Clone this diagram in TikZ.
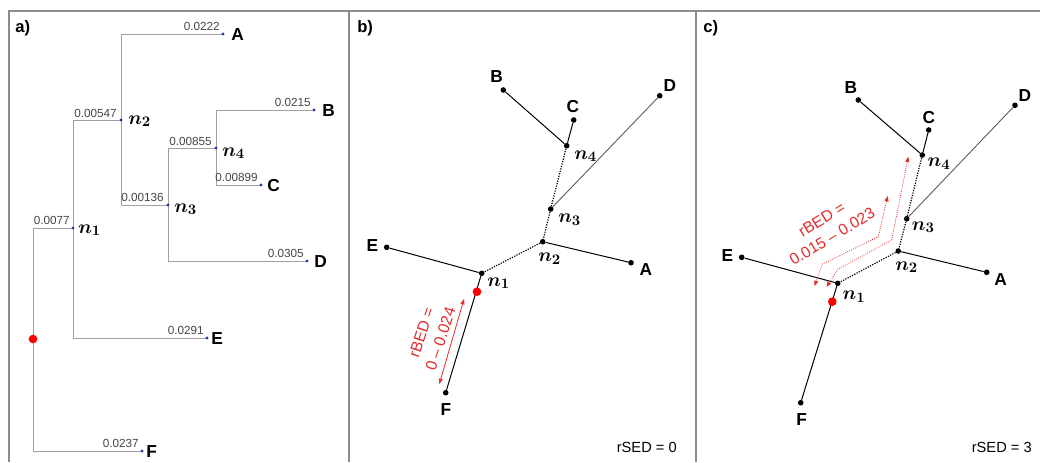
\documentclass[tikz,border=0pt]{standalone}
\usepackage{fontspec}
\setmainfont{Liberation Sans}
\usetikzlibrary{arrows.meta}
\definecolor{framegray}{RGB}{140,140,140}
\definecolor{treegray}{RGB}{160,160,160}
\definecolor{tipblue}{RGB}{30,60,170}
\definecolor{annot}{RGB}{225,45,45}
\definecolor{lengray}{RGB}{70,70,70}
\pgfdeclarelayer{paper}
\pgfdeclarelayer{bg}
\pgfsetlayers{paper,bg,main}
\begin{document}
\begin{tikzpicture}[x=0.75pt,y=-0.75pt,
  bdot/.style={circle,fill=tipblue,inner sep=0,minimum size=2.6pt},
  kdot/.style={circle,fill=black,inner sep=0,minimum size=4.2pt},
  rdot/.style={circle,fill=red,inner sep=0,minimum size=6.5pt},
  tiplab/.style={font=\fontsize{13}{15}\selectfont\bfseries,inner sep=0},
  nlab/.style={font=\fontsize{15}{17}\selectfont\boldmath,inner sep=0,anchor=base west},
  blen/.style={font=\fontsize{8.8}{10}\selectfont,text=lengray,inner sep=0,anchor=base east},
  panlab/.style={font=\fontsize{12.5}{14}\selectfont\bfseries,inner sep=0,anchor=west},
  sedlab/.style={font=\fontsize{11}{13}\selectfont,inner sep=0,anchor=east},
  rtext/.style={font=\fontsize{11.8}{15}\selectfont,text=annot,align=center,inner sep=0},
  tree/.style={draw=treegray,line width=0.75pt},
  edge/.style={draw=black,line width=0.75pt},
  gedge/.style={draw=black!65,line width=0.65pt},
  dedge/.style={draw=black,line width=0.9pt,densely dotted},
  redarrow/.style={draw=annot,line width=0.6pt,{Triangle[length=4pt,width=3pt]}-{Triangle[length=4pt,width=3pt]}},
  framel/.style={draw=framegray,line width=1.5pt}
]
\useasboundingbox (0,0) rectangle (1040,462);
\begin{pgfonlayer}{paper}
\fill[white] (0,0) rectangle (1040,462);
\end{pgfonlayer}
% frame
\draw[framel] (9,462) -- (9,11) -- (1040,11);
\draw[framel] (348.5,11) -- (348.5,462);
\draw[framel] (695.5,11) -- (695.5,462);
\node[panlab] (la) at (15,28) {a)};
\node[panlab] (lb) at (357,28) {b)};
\node[panlab] (lc) at (703,28) {c)};

% ---------------- panel a ----------------
\node[bdot] (aA) at (223,34) {};
\node[bdot] (aB) at (314,110) {};
\node[bdot] (aC) at (261,185) {};
\node[bdot] (aD) at (307,261) {};
\node[bdot] (aE) at (207,338) {};
\node[bdot] (aF) at (142,451) {};
\node[bdot] (an4) at (216,148) {};
\node[bdot] (an3) at (168,205) {};
\node[bdot] (an2) at (121,120) {};
\node[bdot] (an1) at (73,228) {};
\node[rdot] (aroot) at (33,339) {};
\begin{pgfonlayer}{bg}
\draw[tree] (aroot.center) |- (an1.center);
\draw[tree] (aroot.center) |- (aF.center);
\draw[tree] (an1.center) |- (an2.center);
\draw[tree] (an1.center) |- (aE.center);
\draw[tree] (an2.center) |- (aA.center);
\draw[tree] (an2.center) |- (an3.center);
\draw[tree] (an3.center) |- (an4.center);
\draw[tree] (an3.center) |- (aD.center);
\draw[tree] (an4.center) |- (aB.center);
\draw[tree] (an4.center) |- (aC.center);
\end{pgfonlayer}
\node[blen] (lenA) at ([shift={(-3,-4)}]aA.center) {0.0222};
\node[blen] (lenB) at ([shift={(-3,-4)}]aB.center) {0.0215};
\node[blen] (lenC) at ([shift={(-3,-4)}]aC.center) {0.00899};
\node[blen] (lenD) at ([shift={(-3,-4)}]aD.center) {0.0305};
\node[blen] (lenE) at ([shift={(-3,-4)}]aE.center) {0.0291};
\node[blen] (lenF) at ([shift={(-3,-4)}]aF.center) {0.0237};
\node[blen] (len4) at ([shift={(-4,-3)}]an4.center) {0.00855};
\node[blen] (len3) at ([shift={(-4,-4)}]an3.center) {0.00136};
\node[blen] (len2) at ([shift={(-4,-3)}]an2.center) {0.00547};
\node[blen] (len1) at ([shift={(-3,-4)}]an1.center) {0.0077};
\node[tiplab,anchor=west] (tA) at (231,35) {A};
\node[tiplab,anchor=west] (tB) at (322,111) {B};
\node[tiplab,anchor=west] (tC) at (267,186) {C};
\node[tiplab,anchor=west] (tD) at (314,262) {D};
\node[tiplab,anchor=west] (tE) at (211,339) {E};
\node[tiplab,anchor=west] (tF) at (146,452) {F};
\node[nlab] (tn1) at (78,233) {$n_1$};
\node[nlab] (tn2) at (128,124) {$n_2$};
\node[nlab] (tn3) at (174,212) {$n_3$};
\node[nlab] (tn4) at (222,156) {$n_4$};

% ---------------- panel b ----------------
\node[kdot] (bB) at (503.3,90) {};
\node[kdot] (bC) at (573.7,120) {};
\node[kdot] (bD) at (659.7,95.7) {};
\node[kdot] (bn4) at (566.7,145.7) {};
\node[kdot] (bn3) at (550.7,209) {};
\node[kdot] (bn2) at (542.7,241.7) {};
\node[kdot] (bn1) at (481.7,273.3) {};
\node[kdot] (bE) at (386.7,247.3) {};
\node[kdot] (bA) at (631,262.7) {};
\node[kdot] (bF) at (445.7,392.7) {};
\node[rdot] (bR) at (477,291.7) {};
\begin{pgfonlayer}{bg}
\draw[edge] (bB) -- (bn4);
\draw[edge] (bC) -- (bn4);
\draw[gedge] (bD) -- (bn3);
\draw[dedge] (bn4) -- (bn3);
\draw[dedge] (bn3) -- (bn2);
\draw[dedge] (bn2) -- (bn1);
\draw[edge] (bn2) -- (bA);
\draw[edge] (bE) -- (bn1);
\draw[edge] (bn1) -- (bF);
\end{pgfonlayer}
\node[tiplab] (sB) at (496.7,77) {B};
\node[tiplab] (sC) at (573,107) {C};
\node[tiplab] (sD) at (670,86) {D};
\node[tiplab] (sE) at (372.3,245.7) {E};
\node[tiplab] (sA) at (646,270) {A};
\node[tiplab] (sF) at (446,409.3) {F};
\node[nlab] (sn4) at (574,159) {$n_4$};
\node[nlab] (sn3) at (558,222.7) {$n_3$};
\node[nlab] (sn2) at (538,261.7) {$n_2$};
\node[nlab] (sn1) at (487,286) {$n_1$};
\coordinate (bar1) at (464,299);
\coordinate (bar2) at (439.3,384);
\draw[redarrow] (bar1) -- (bar2);
\node[rtext,rotate=72] (btxt) at (431,336) {rBED =\\0 -- 0.024};
\node[sedlab] (bsed) at (677,447) {rSED = 0};

% ---------------- panel c ----------------
\node[kdot] (cB) at (858.3,100) {};
\node[kdot] (cC) at (928.7,130) {};
\node[kdot] (cD) at (1015,105.3) {};
\node[kdot] (cn4) at (922.3,155) {};
\node[kdot] (cn3) at (906.7,218.7) {};
\node[kdot] (cn2) at (898.3,251) {};
\node[kdot] (cn1) at (837.7,283.3) {};
\node[kdot] (cE) at (741.7,257.3) {};
\node[kdot] (cA) at (986.7,272.3) {};
\node[kdot] (cF) at (800.7,402.7) {};
\node[rdot] (cR) at (832.3,301.7) {};
\begin{pgfonlayer}{bg}
\draw[edge] (cB) -- (cn4);
\draw[edge] (cC) -- (cn4);
\draw[gedge] (cD) -- (cn3);
\draw[dedge] (cn4) -- (cn3);
\draw[dedge] (cn3) -- (cn2);
\draw[dedge] (cn2) -- (cn1);
\draw[edge] (cn2) -- (cA);
\draw[edge] (cE) -- (cn1);
\draw[edge] (cn1) -- (cF);
\end{pgfonlayer}
\node[tiplab] (uB) at (851,87.3) {B};
\node[tiplab] (uC) at (929,117.3) {C};
\node[tiplab] (uD) at (1025,96) {D};
\node[tiplab] (uE) at (727.3,256) {E};
\node[tiplab] (uA) at (1000.7,280) {A};
\node[tiplab] (uF) at (801.7,420) {F};
\node[nlab] (un4) at (927.3,166.7) {$n_4$};
\node[nlab] (un3) at (911.7,230) {$n_3$};
\node[nlab] (un2) at (895,270) {$n_2$};
\node[nlab] (un1) at (842.3,299.3) {$n_1$};
\coordinate (p1a) at (908.3,156.7);
\coordinate (p1b) at (891.7,240);
\coordinate (p1c) at (838,269);
\coordinate (p1d) at (826.5,287);
\coordinate (p2a) at (887.7,196);
\coordinate (p2b) at (878.3,236.7);
\coordinate (p2c) at (822.5,264);
\coordinate (p2d) at (814.5,286);
\draw[redarrow,densely dotted] (p1a) -- (p1b) -- (p1c) -- (p1d);
\draw[redarrow,densely dotted] (p2a) -- (p2b) -- (p2c) -- (p2d);
\node[rtext,rotate=31] (ctxt) at (827,228) {rBED =\\0.015 -- 0.023};
\node[sedlab] (csed) at (1032,447) {rSED = 3};
\end{tikzpicture}
\end{document}
